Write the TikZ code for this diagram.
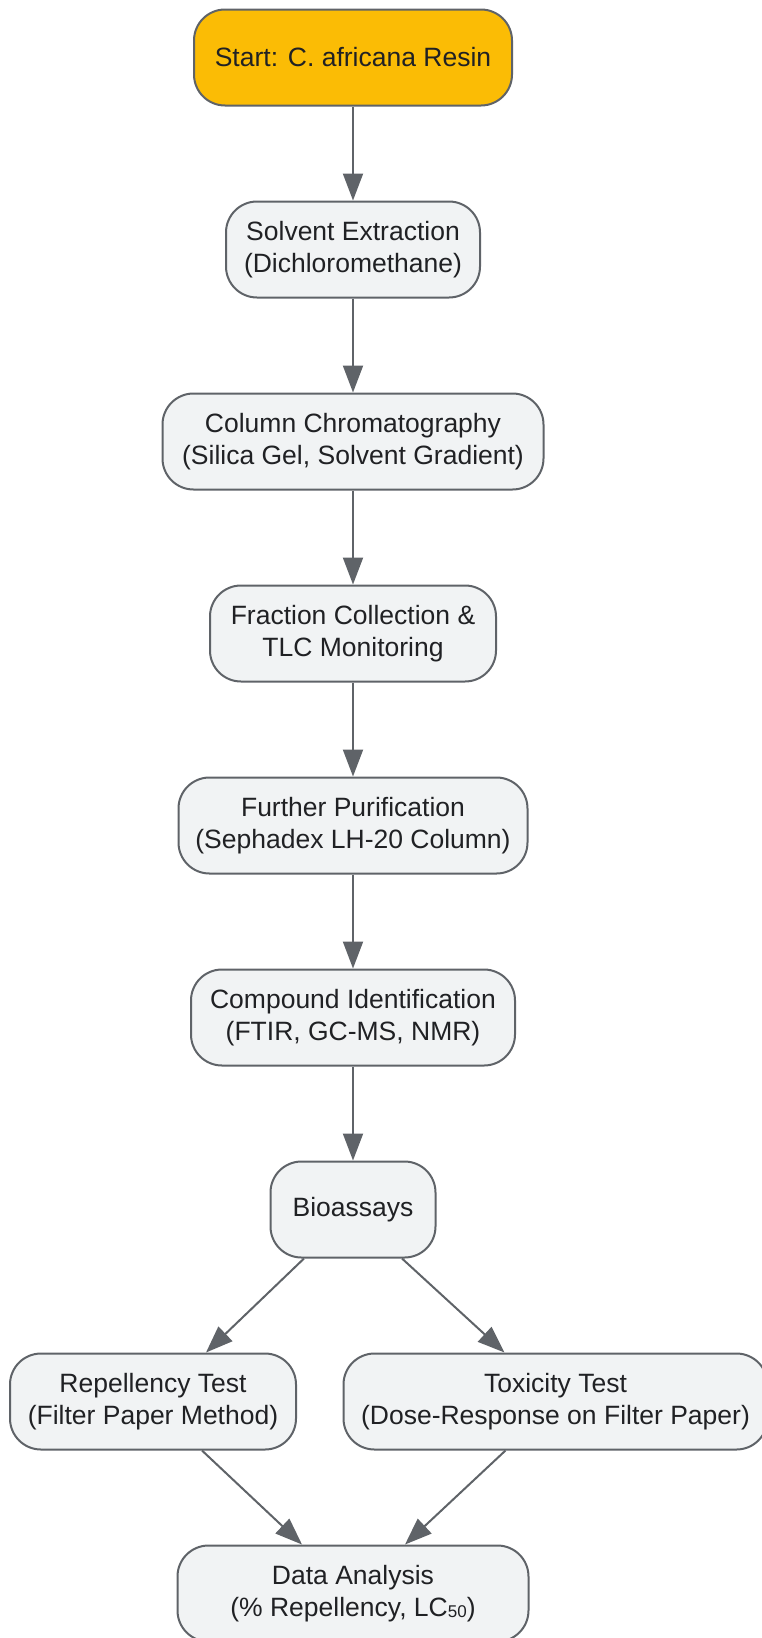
\documentclass[tikz,border=0pt]{standalone}
\usepackage{fontspec}
\setmainfont{Liberation Sans}
\usepackage{tikz}
\usetikzlibrary{shapes,arrows.meta}
\definecolor{kuning}{HTML}{FBBC05}
\definecolor{abu}{HTML}{F1F3F4}
\definecolor{garis}{HTML}{5F6368}
\definecolor{tinta}{HTML}{202124}
\tikzstyle{blok} = [rectangle, draw=garis, line width=2pt, fill=abu, text=tinta, align=center, rounded corners=31pt, minimum height=96pt, font=\fontsize{26.5}{31.7}\selectfont]
\tikzstyle{mulai} = [blok, fill=kuning]
\tikzstyle{line} = [draw=garis, line width=2pt, -{Triangle[length=27pt,width=20pt]}]

\begin{document}
\begin{tikzpicture}[node distance = 192pt, auto, x=1pt, y=1pt]
\useasboundingbox (0,0) rectangle (761,-1638);
\node [mulai, minimum width=318pt] at (353,-57.5) (start) {Start: C. africana Resin};
\node [blok, below of=start, minimum width=254pt] (solvent) {Solvent Extraction\\(Dichloromethane)};
\node [blok, below of=solvent, minimum width=381pt] (column) {Column Chromatography\\(Silica Gel, Solvent Gradient)};
\node [blok, below of=column, minimum width=286pt] (fraction) {Fraction Collection \&\\TLC Monitoring};
\node [blok, below of=fraction, minimum width=349pt] (further) {Further Purification\\(Sephadex LH-20 Column)};
\node [blok, below of=further, minimum width=324pt] (compound) {Compound Identification\\(FTIR, GC-MS, NMR)};
\node [blok, below of=compound, minimum width=165pt] (bioassay) {Bioassays};

\node [blok, below of=bioassay, xshift=-200pt, minimum width=286pt] (repel) {Repellency Test\\(Filter Paper Method)};
\node [blok, below of=bioassay, xshift=202.5pt, minimum width=424pt] (toxic) {Toxicity Test\\(Dose-Response on Filter Paper)};
\node [blok, below of=bioassay, node distance=384pt, minimum width=351pt] (analysis) {Data Analysis\\(\% Repellency, LC{\fontsize{17}{17}\selectfont\raisebox{-1.5pt}{50}})};

\path[line](start) -- (solvent);
\path[line](solvent) -- (column);
\path[line](column) -- (fraction);
\path[line](fraction) -- (further);
\path[line](further) -- (compound);
\path[line](compound) -- (bioassay);

\path[line]([xshift=-49pt]bioassay.south) -- ([xshift=53pt]repel.north);
\path[line]([xshift=49pt]bioassay.south) -- ([xshift=-51pt]toxic.north);
\path[line]([xshift=49pt]repel.south) -- ([xshift=-51pt]analysis.north);
\path[line]([xshift=-50pt]toxic.south) -- ([xshift=52pt]analysis.north);
\end{tikzpicture}
\end{document}
